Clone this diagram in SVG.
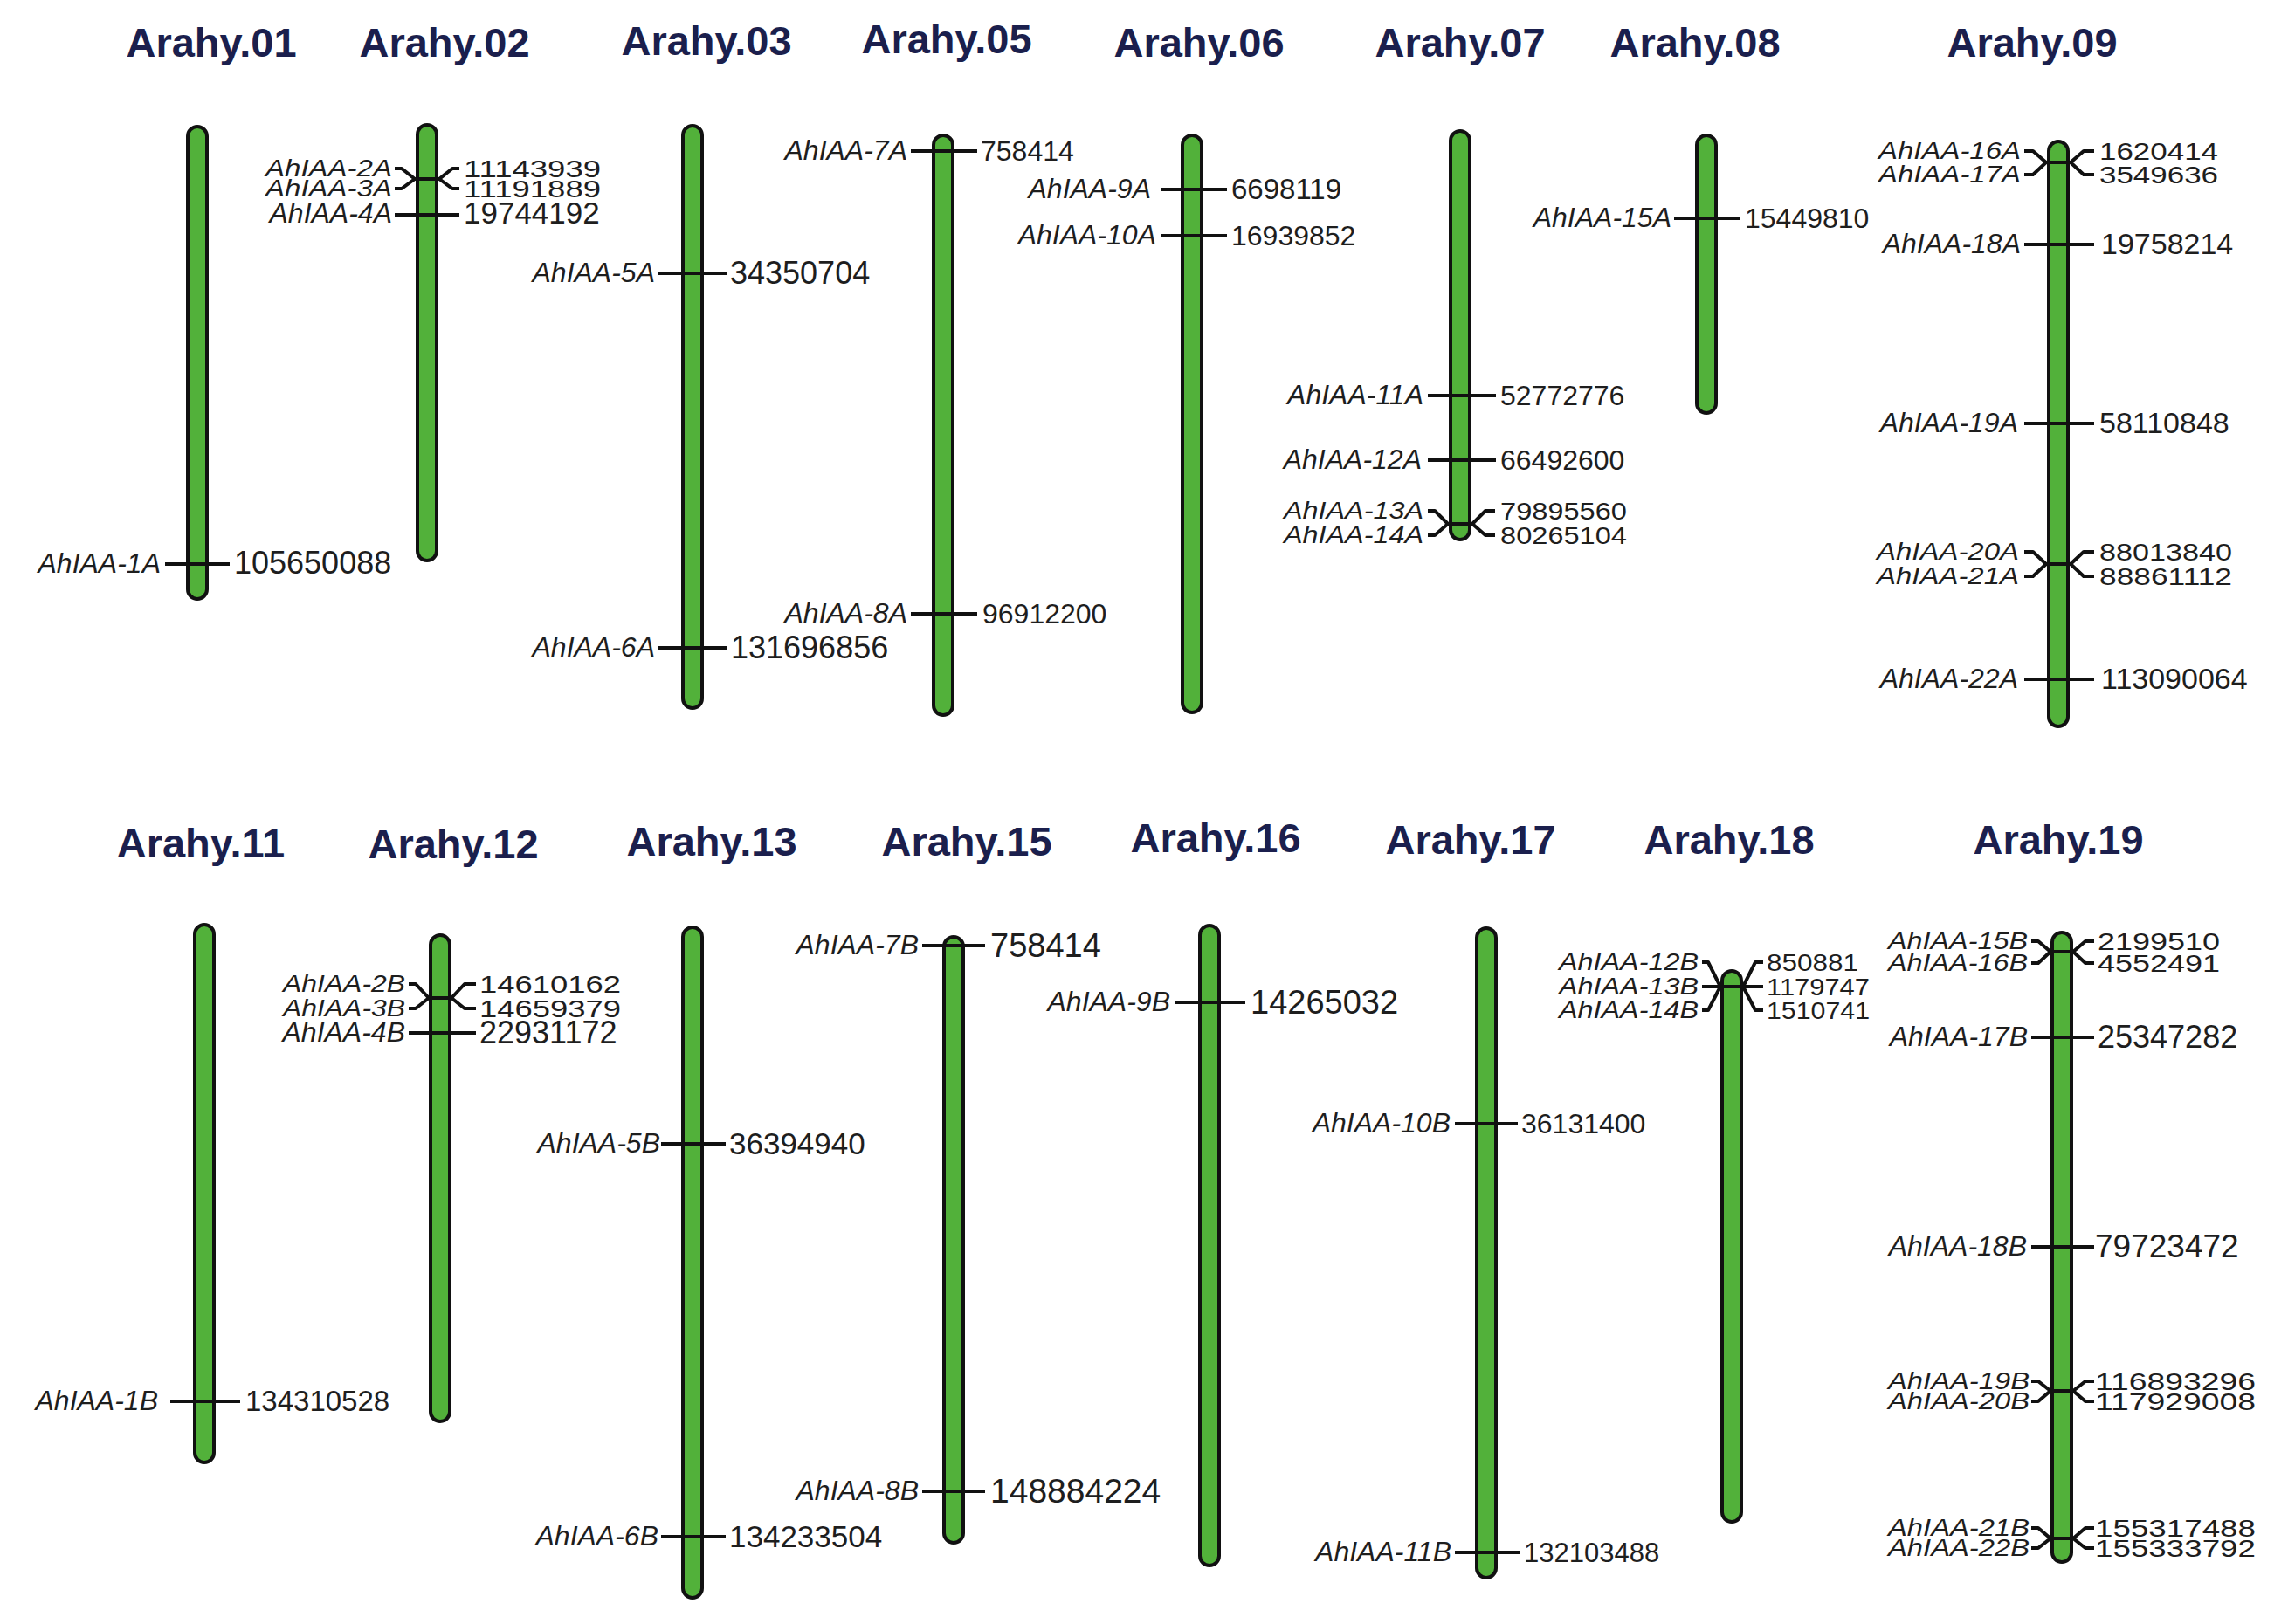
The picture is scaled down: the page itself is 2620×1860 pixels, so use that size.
<svg xmlns="http://www.w3.org/2000/svg" width="2620" height="1860" viewBox="0 0 2620 1860">
<style>
.t{font-family:"Liberation Sans",Arial,sans-serif;font-weight:bold;font-size:47px;fill:#1b1f4d;text-anchor:middle}
.g{font-family:"Liberation Sans",Arial,sans-serif;font-style:italic;font-size:32px;fill:#1e1e1e;text-anchor:end}
.n{font-family:"Liberation Sans",Arial,sans-serif;font-size:34px;fill:#1e1e1e}
.p{font-size:28px}
.c{fill:#52b13a;stroke:#111;stroke-width:4}
.k{fill:none;stroke:#111;stroke-width:4;stroke-linejoin:round}
</style>
<rect width="2620" height="1860" fill="#fff"/>

<g id="chr01"><text class="t" x="242" y="65">Arahy.01</text><rect class="c" x="215" y="145" width="22" height="541" rx="11"/>
<text class="g" x="184" y="656">AhIAA-1A</text><text class="n" x="268" y="657" style="font-size:36px">105650088</text></g>

<g id="chr02"><text class="t" x="509" y="65">Arahy.02</text><rect class="c" x="478" y="143" width="22" height="499" rx="11"/>
<text class="g p" x="449" y="202" textLength="145" lengthAdjust="spacingAndGlyphs">AhIAA-2A</text><text class="g p" x="449" y="225" textLength="145" lengthAdjust="spacingAndGlyphs">AhIAA-3A</text><text class="g" x="449" y="255">AhIAA-4A</text>
<text class="n p" x="531" y="203" textLength="157" lengthAdjust="spacingAndGlyphs">11143939</text><text class="n p" x="531" y="226" textLength="157" lengthAdjust="spacingAndGlyphs">11191889</text><text class="n" x="531" y="256" style="font-size:35px">19744192</text></g>

<g id="chr03"><text class="t" x="809" y="63">Arahy.03</text><rect class="c" x="782" y="144" width="22" height="667" rx="11"/>
<text class="g" x="750" y="323">AhIAA-5A</text><text class="n" x="836" y="325" style="font-size:36px">34350704</text>
<text class="g" x="750" y="752">AhIAA-6A</text><text class="n" x="837" y="754" style="font-size:36px">131696856</text></g>

<g id="chr05"><text class="t" x="1084" y="61">Arahy.05</text><rect class="c" x="1069" y="155" width="22" height="664" rx="11"/>
<text class="g" x="1039" y="183">AhIAA-7A</text><text class="n" x="1123" y="184" style="font-size:32px">758414</text>
<text class="g" x="1039" y="713">AhIAA-8A</text><text class="n" x="1125" y="714" style="font-size:32px">96912200</text></g>

<g id="chr06"><text class="t" x="1373" y="65">Arahy.06</text><rect class="c" x="1354" y="155" width="22" height="661" rx="11"/>
<text class="g" x="1318" y="227">AhIAA-9A</text><text class="n" x="1410" y="228" style="font-size:33px">6698119</text>
<text class="g" x="1324" y="280">AhIAA-10A</text><text class="n" x="1410" y="281" style="font-size:32px">16939852</text></g>

<g id="chr07"><text class="t" x="1672" y="65">Arahy.07</text><rect class="c" x="1661" y="150" width="22" height="468" rx="11"/>
<text class="g" x="1630" y="463">AhIAA-11A</text><text class="n" x="1718" y="464" style="font-size:32px">52772776</text>
<text class="g" x="1628" y="537">AhIAA-12A</text><text class="n" x="1718" y="538" style="font-size:32px">66492600</text>
<text class="g p" x="1630" y="594" textLength="160" lengthAdjust="spacingAndGlyphs">AhIAA-13A</text><text class="n p" x="1718" y="595" textLength="145" lengthAdjust="spacingAndGlyphs">79895560</text>
<text class="g p" x="1630" y="622" textLength="160" lengthAdjust="spacingAndGlyphs">AhIAA-14A</text><text class="n p" x="1718" y="623" textLength="145" lengthAdjust="spacingAndGlyphs">80265104</text></g>

<g id="chr08"><text class="t" x="1941" y="65">Arahy.08</text><rect class="c" x="1943" y="155" width="22" height="318" rx="11"/>
<text class="g" x="1914" y="260">AhIAA-15A</text><text class="n" x="1998" y="261" style="font-size:32px">15449810</text></g>

<g id="chr09"><text class="t" x="2327" y="65">Arahy.09</text><rect class="c" x="2346" y="162" width="22" height="670" rx="11"/>
<text class="g p" x="2314" y="182" textLength="163" lengthAdjust="spacingAndGlyphs">AhIAA-16A</text><text class="n p" x="2404" y="183" textLength="136" lengthAdjust="spacingAndGlyphs">1620414</text>
<text class="g p" x="2314" y="209" textLength="163" lengthAdjust="spacingAndGlyphs">AhIAA-17A</text><text class="n p" x="2404" y="210" textLength="136" lengthAdjust="spacingAndGlyphs">3549636</text>
<text class="g" x="2314" y="290">AhIAA-18A</text><text class="n" x="2406" y="291">19758214</text>
<text class="g" x="2311" y="495">AhIAA-19A</text><text class="n" x="2404" y="496">58110848</text>
<text class="g p" x="2312" y="641" textLength="163" lengthAdjust="spacingAndGlyphs">AhIAA-20A</text><text class="n p" x="2404" y="642" textLength="152" lengthAdjust="spacingAndGlyphs">88013840</text>
<text class="g p" x="2312" y="669" textLength="163" lengthAdjust="spacingAndGlyphs">AhIAA-21A</text><text class="n p" x="2404" y="670" textLength="152" lengthAdjust="spacingAndGlyphs">88861112</text>
<text class="g" x="2311" y="788">AhIAA-22A</text><text class="n" x="2406" y="789">113090064</text></g>

<g id="chr11"><text class="t" x="230" y="982">Arahy.11</text><rect class="c" x="223" y="1059" width="22" height="616" rx="11"/>
<text class="g" x="181" y="1615">AhIAA-1B</text><text class="n" x="281" y="1616" style="font-size:33px">134310528</text></g>

<g id="chr12"><text class="t" x="519" y="983">Arahy.12</text><rect class="c" x="493" y="1071" width="22" height="557" rx="11"/>
<text class="g p" x="464" y="1136" textLength="140" lengthAdjust="spacingAndGlyphs">AhIAA-2B</text><text class="g p" x="464" y="1164" textLength="140" lengthAdjust="spacingAndGlyphs">AhIAA-3B</text><text class="g" x="464" y="1193">AhIAA-4B</text>
<text class="n p" x="549" y="1137" textLength="162" lengthAdjust="spacingAndGlyphs">14610162</text><text class="n p" x="549" y="1165" textLength="162" lengthAdjust="spacingAndGlyphs">14659379</text><text class="n" x="549" y="1195" style="font-size:36px">22931172</text></g>

<g id="chr13"><text class="t" x="815" y="980">Arahy.13</text><rect class="c" x="782" y="1062" width="22" height="768" rx="11"/>
<text class="g" x="756" y="1320">AhIAA-5B</text><text class="n" x="835" y="1322" style="font-size:35px">36394940</text>
<text class="g" x="754" y="1770">AhIAA-6B</text><text class="n" x="835" y="1772" style="font-size:35px">134233504</text></g>

<g id="chr15"><text class="t" x="1107" y="980">Arahy.15</text><rect class="c" x="1081" y="1073" width="22" height="694" rx="11"/>
<text class="g" x="1052" y="1093">AhIAA-7B</text><text class="n" x="1134" y="1096" style="font-size:38px">758414</text>
<text class="g" x="1052" y="1718">AhIAA-8B</text><text class="n" x="1134" y="1721" style="font-size:39px">148884224</text></g>

<g id="chr16"><text class="t" x="1392" y="976">Arahy.16</text><rect class="c" x="1374" y="1060" width="22" height="733" rx="11"/>
<text class="g" x="1340" y="1158">AhIAA-9B</text><text class="n" x="1432" y="1161" style="font-size:38px">14265032</text></g>

<g id="chr17"><text class="t" x="1684" y="978">Arahy.17</text><rect class="c" x="1691" y="1063" width="22" height="744" rx="11"/>
<text class="g" x="1661" y="1297">AhIAA-10B</text><text class="n" x="1742" y="1298" style="font-size:32px">36131400</text>
<text class="g" x="1662" y="1788">AhIAA-11B</text><text class="n" x="1745" y="1789" style="font-size:31px">132103488</text></g>

<g id="chr18"><text class="t" x="1980" y="978">Arahy.18</text><rect class="c" x="1972" y="1112" width="22" height="631" rx="11"/>
<text class="g p" x="1945" y="1111" textLength="160" lengthAdjust="spacingAndGlyphs">AhIAA-12B</text><text class="n p" x="2023" y="1112" textLength="105" lengthAdjust="spacingAndGlyphs">850881</text>
<text class="g p" x="1945" y="1139" textLength="160" lengthAdjust="spacingAndGlyphs">AhIAA-13B</text><text class="n p" x="2023" y="1140" textLength="118" lengthAdjust="spacingAndGlyphs">1179747</text>
<text class="g p" x="1945" y="1166" textLength="160" lengthAdjust="spacingAndGlyphs">AhIAA-14B</text><text class="n p" x="2023" y="1167" textLength="118" lengthAdjust="spacingAndGlyphs">1510741</text></g>

<g id="chr19"><text class="t" x="2357" y="978">Arahy.19</text><rect class="c" x="2350" y="1068" width="22" height="721" rx="11"/>
<text class="g p" x="2322" y="1087" textLength="160" lengthAdjust="spacingAndGlyphs">AhIAA-15B</text><text class="n p" x="2402" y="1088" textLength="140" lengthAdjust="spacingAndGlyphs">2199510</text>
<text class="g p" x="2322" y="1112" textLength="160" lengthAdjust="spacingAndGlyphs">AhIAA-16B</text><text class="n p" x="2402" y="1113" textLength="140" lengthAdjust="spacingAndGlyphs">4552491</text>
<text class="g" x="2322" y="1198">AhIAA-17B</text><text class="n" x="2402" y="1200" style="font-size:36px">25347282</text>
<text class="g" x="2321" y="1438">AhIAA-18B</text><text class="n" x="2399" y="1440" style="font-size:37px">79723472</text>
<text class="g p" x="2324" y="1591" textLength="162" lengthAdjust="spacingAndGlyphs">AhIAA-19B</text><text class="n p" x="2399" y="1592" textLength="184" lengthAdjust="spacingAndGlyphs">116893296</text>
<text class="g p" x="2324" y="1614" textLength="162" lengthAdjust="spacingAndGlyphs">AhIAA-20B</text><text class="n p" x="2399" y="1615" textLength="184" lengthAdjust="spacingAndGlyphs">117929008</text>
<text class="g p" x="2324" y="1759" textLength="162" lengthAdjust="spacingAndGlyphs">AhIAA-21B</text><text class="n p" x="2399" y="1760" textLength="184" lengthAdjust="spacingAndGlyphs">155317488</text>
<text class="g p" x="2324" y="1782" textLength="162" lengthAdjust="spacingAndGlyphs">AhIAA-22B</text><text class="n p" x="2399" y="1783" textLength="184" lengthAdjust="spacingAndGlyphs">155333792</text></g>

<g id="connectors" class="k">
<path d="M189 646H263"/>
<path d="M452 193H460L475 205H503L518 193H526"/>
<path d="M452 216H460L475 205H503L518 216H526"/>
<path d="M452 246H526"/>
<path d="M754 313H832M754 742H832"/>
<path d="M1043 173H1119M1043 703H1119"/>
<path d="M1329 217H1405M1329 270H1405"/>
<path d="M1635 453H1713M1635 527H1713"/>
<path d="M1635 585H1643L1658 600H1686L1701 585H1712"/>
<path d="M1635 613H1643L1658 600H1686L1701 613H1712"/>
<path d="M1917 250H1993"/>
<path d="M2318 173H2328L2343 186H2371L2386 173H2398"/>
<path d="M2318 200H2328L2343 186H2371L2386 200H2398"/>
<path d="M2318 280H2398M2318 485H2398M2318 778H2398"/>
<path d="M2318 632H2328L2343 646H2371L2386 632H2398"/>
<path d="M2318 660H2328L2343 646H2371L2386 660H2398"/>
<path d="M195 1605H275"/>
<path d="M468 1127H476L491 1143H517L532 1127H545"/>
<path d="M468 1155H476L491 1143H517L532 1155H545"/>
<path d="M468 1183H545"/>
<path d="M757 1310H831M757 1760H831"/>
<path d="M1056 1083H1128M1056 1708H1128"/>
<path d="M1346 1148H1426"/>
<path d="M1666 1287H1738M1666 1778H1740"/>
<path d="M1949 1102H1956L1970 1130H1996L2010 1102H2019"/>
<path d="M1949 1130H2019"/>
<path d="M1949 1157H1956L1970 1130H1996L2010 1157H2019"/>
<path d="M2326 1078H2334L2348 1090H2374L2388 1078H2398"/>
<path d="M2326 1103H2334L2348 1090H2374L2388 1103H2398"/>
<path d="M2326 1188H2398M2326 1428H2398"/>
<path d="M2326 1582H2334L2348 1593H2374L2388 1582H2398"/>
<path d="M2326 1605H2334L2348 1593H2374L2388 1605H2398"/>
<path d="M2326 1750H2334L2348 1762H2374L2388 1750H2398"/>
<path d="M2326 1773H2334L2348 1762H2374L2388 1773H2398"/>
</g>
</svg>
